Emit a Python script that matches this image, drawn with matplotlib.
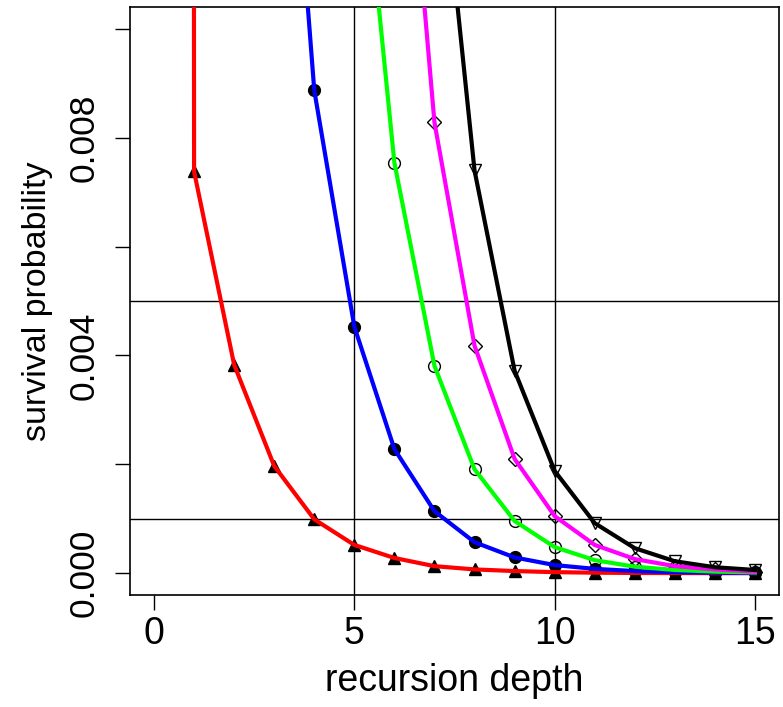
import matplotlib
matplotlib.use("Agg")
import matplotlib.pyplot as plt

plt.rcParams['font.family'] = ['Liberation Sans', 'DejaVu Sans']

depth = list(range(16))

# survival probability per recursion depth, one series per curve
red_vals = [1.0, 0.00738, 0.00383, 0.00197, 0.00099, 0.00052, 0.00028, 0.00013,
            0.00007, 0.00004, 0.00002, 0.00001, 0.000005, 0.000003, 0.000001, 0.000001]
blue_vals = [0.14, 0.07, 0.036, 0.0184, 0.00887, 0.00453, 0.00228, 0.00114,
             0.00057, 0.00029, 0.00015, 0.00008, 0.00004, 0.00002, 0.00001, 0.000005]
green_vals = [0.45, 0.23, 0.12, 0.06, 0.03, 0.0149, 0.00754, 0.00381,
              0.00191, 0.00096, 0.00048, 0.00024, 0.00012, 0.00006, 0.00003, 0.000015]
magenta_vals = [1.0, 0.5, 0.26, 0.13, 0.067, 0.0335, 0.0168, 0.00828,
                0.00418, 0.0021, 0.00105, 0.00052, 0.00026, 0.00013, 0.00007, 0.00003]
black_vals = [1.0, 0.9, 0.47, 0.23, 0.116, 0.058, 0.029, 0.0145,
              0.0074, 0.00372, 0.00188, 0.00092, 0.00046, 0.00022, 0.00011, 0.00006]

series = [
    (red_vals, "#ff0000", "^", "black"),
    (blue_vals, "#0000ff", "o", "black"),
    (green_vals, "#00ff00", "o", "none"),
    (magenta_vals, "#ff00ff", "D", "none"),
    (black_vals, "#000000", "v", "none"),
]

fig = plt.figure(figsize=(7.83, 7.07), dpi=100)
ax = fig.add_axes([0.166, 0.1584, 0.8289, 0.8316])

for vals, col, mk, fc in series:
    ms = 7 if mk == "D" else 8.5
    ax.plot(depth, vals, linestyle="none", marker=mk, markersize=ms,
            markerfacecolor=fc, markeredgecolor="black", markeredgewidth=1.0, zorder=2)
    ax.plot(depth, vals, color=col, linewidth=3, zorder=3, solid_joinstyle="round")

for v in [5, 10]:
    ax.axvline(v, color="black", linewidth=1, zorder=1)
for h in [0.005, 0.001]:
    ax.axhline(h, color="black", linewidth=1, zorder=1)

ax.set_xlim(-0.6, 15.6)
ax.set_ylim(-0.0004, 0.0104)
ax.set_xticks([0, 5, 10, 15])
ax.set_yticks([0, 0.002, 0.004, 0.006, 0.008, 0.010])
ax.set_yticklabels(["0.000", "", "0.004", "", "0.008", ""], rotation=90, va="center")
ax.tick_params(axis="both", length=11, width=1)
ax.tick_params(axis="x", labelsize=27, pad=4)
ax.tick_params(axis="y", labelsize=25.5, pad=10)
for s in ax.spines.values():
    s.set_linewidth(1.2)

ax.set_xlabel("recursion depth", fontsize=27)
ax.set_ylabel("survival probability", fontsize=24.5)
ax.xaxis.set_label_coords(0.499, -0.146)
ax.xaxis.label.set_va("center")
ax.yaxis.set_label_coords(-0.143, 0.5)
ax.yaxis.label.set_va("center")

fig.savefig("out.png", dpi=100)
